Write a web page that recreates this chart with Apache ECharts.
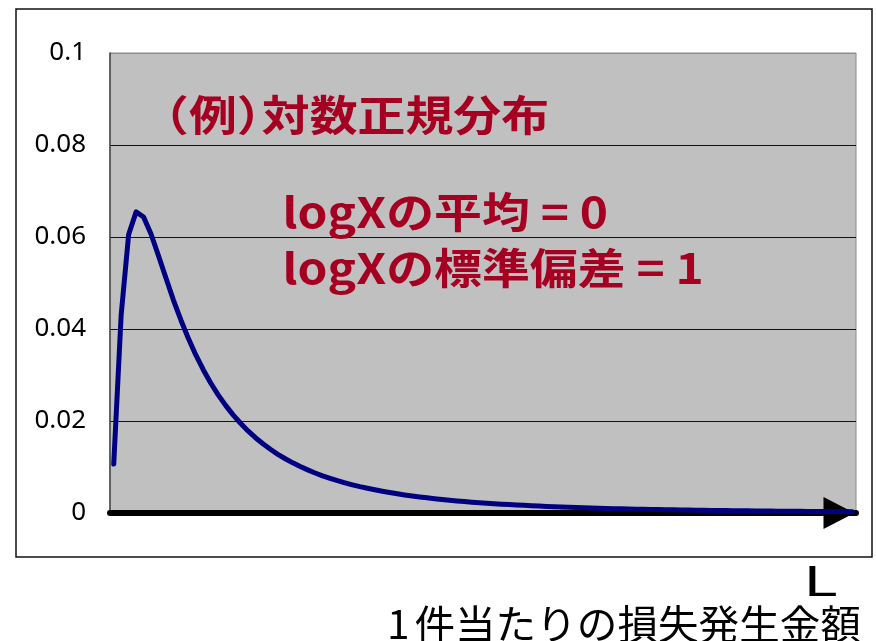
<!DOCTYPE html>
<html>
<head>
<meta charset="utf-8">
<script src="https://cdn.jsdelivr.net/npm/echarts@6/dist/echarts.min.js"></script>
<style>
  html, body { margin: 0; padding: 0; background: #ffffff; }
  #chart { width: 876px; height: 641px; }
</style>
</head>
<body>
<div id="chart"></div>
<script>
// Loss amount classes (upper bound of each 0.1-wide class)
const lossClasses = [
  '0.1','0.2','0.3','0.4','0.5','0.6','0.7','0.8','0.9','1.0',
  '1.1','1.2','1.3','1.4','1.5','1.6','1.7','1.8','1.9','2.0',
  '2.1','2.2','2.3','2.4','2.5','2.6','2.7','2.8','2.9','3.0',
  '3.1','3.2','3.3','3.4','3.5','3.6','3.7','3.8','3.9','4.0',
  '4.1','4.2','4.3','4.4','4.5','4.6','4.7','4.8','4.9','5.0',
  '5.1','5.2','5.3','5.4','5.5','5.6','5.7','5.8','5.9','6.0',
  '6.1','6.2','6.3','6.4','6.5','6.6','6.7','6.8','6.9','7.0',
  '7.1','7.2','7.3','7.4','7.5','7.6','7.7','7.8','7.9','8.0',
  '8.1','8.2','8.3','8.4','8.5','8.6','8.7','8.8','8.9','9.0',
  '9.1','9.2','9.3','9.4','9.5','9.6','9.7','9.8','9.9','10.0'
];

// Probability of each loss class (log-normal, mean of logX = 0, sd of logX = 1)
const probability = [
  0.01065, 0.04312, 0.06053, 0.06546, 0.06434, 0.06064, 0.05591, 0.05107, 0.04630, 0.04197,
  0.03797, 0.03436, 0.03115, 0.02826, 0.02569, 0.02339, 0.02134, 0.01951, 0.01785, 0.01637,
  0.01505, 0.01385, 0.01276, 0.01179, 0.01090, 0.01009, 0.00937, 0.00870, 0.00809, 0.00754,
  0.00702, 0.00656, 0.00613, 0.00573, 0.00537, 0.00504, 0.00473, 0.00444, 0.00418, 0.00393,
  0.00370, 0.00349, 0.00330, 0.00311, 0.00294, 0.00278, 0.00263, 0.00249, 0.00236, 0.00224,
  0.00213, 0.00202, 0.00192, 0.00183, 0.00174, 0.00166, 0.00158, 0.00150, 0.00143, 0.00137,
  0.00130, 0.00125, 0.00119, 0.00114, 0.00109, 0.00104, 0.00100, 0.00095, 0.00091, 0.00088,
  0.00084, 0.00081, 0.00077, 0.00074, 0.00071, 0.00068, 0.00066, 0.00063, 0.00061, 0.00059,
  0.00056, 0.00054, 0.00052, 0.00050, 0.00048, 0.00047, 0.00045, 0.00043, 0.00042, 0.00040,
  0.00039, 0.00038, 0.00036, 0.00035, 0.00034, 0.00033, 0.00032, 0.00031, 0.00030, 0.00029
];

// Y axis ticks
const yTicks = [0, 0.02, 0.04, 0.06, 0.08, 0.1];

// Annotation texts
const titleText = '（例{rp|）}対数正規分布';
const meanText = 'logXの平均 = 0';
const sdText = 'logXの標準偏差 = 1';
const axisMark = 'L';
const axisName = '{n|1}件当たりの損失発生金額';

const RED = '#a50021';
const JP = '"Noto Sans CJK JP", "Noto Sans", sans-serif';
const redFont = { fontSize: 42, fontWeight: 'bold', fontFamily: JP, fill: RED };

const chart = echarts.init(document.getElementById('chart'), null, { renderer: 'canvas' });

function redText(text, x, y, extra) {
  return Object.assign({
    type: 'text', x: x, y: y, scaleX: 1.14, z: 100, silent: true,
    style: Object.assign({ text: text, textAlign: 'left', textVerticalAlign: 'middle' }, redFont)
  }, extra || {});
}

const titleEl = redText(titleText, 141, 115);
titleEl.style.rich = {
  rp: { width: 22, align: 'left', fontSize: 42, fontWeight: 'bold', fontFamily: JP, color: RED }
};

chart.setOption({
  animation: false,
  backgroundColor: '#ffffff',
  grid: {
    left: 110, right: 20, top: 53, bottom: 128,
    show: true,
    backgroundColor: '#c0c0c0',
    borderColor: '#8c8c8c',
    borderWidth: 1
  },
  xAxis: {
    type: 'category',
    data: lossClasses,
    boundaryGap: true,
    axisLabel: { show: false },
    axisTick: { show: false },
    splitLine: { show: false },
    axisLine: {
      show: true,
      symbol: ['none', 'triangle'],
      symbolSize: [32, 31],
      symbolOffset: [0, -17],
      lineStyle: { color: '#000000', width: 6 }
    },
    z: 3
  },
  yAxis: {
    type: 'value',
    min: yTicks[0],
    max: yTicks[yTicks.length - 1],
    interval: yTicks[1] - yTicks[0],
    axisLine: { show: true, lineStyle: { color: '#444444', width: 1.5 } },
    axisTick: { show: false },
    axisLabel: {
      margin: 24,
      fontSize: 26,
      color: '#000000',
      padding: [6, 0, 0, 0],
      fontFamily: '"Noto Sans", sans-serif',
      formatter: function (v) {
        const i = yTicks.findIndex(function (t) { return Math.abs(t - v) < 1e-9; });
        return i >= 0 ? String(yTicks[i]) : '';
      }
    },
    splitLine: {
      show: true,
      lineStyle: { color: ['#000000', '#111111', '#111111', '#111111', '#111111', '#8c8c8c'], width: 1 }
    }
  },
  series: [{
    type: 'line',
    data: probability,
    showSymbol: false,
    smooth: false,
    lineStyle: { color: '#000080', width: 5, join: 'round', cap: 'round' },
    z: 5
  }],
  graphic: [
    {
      type: 'rect',
      shape: { x: 16, y: 9, width: 856, height: 548 },
      style: { fill: 'none', stroke: '#111111', lineWidth: 1.5 },
      silent: true,
      z: 100
    },
    titleEl,
    redText(meanText, 282.5, 212),
    redText(sdText, 282.5, 268),
    {
      type: 'text', x: 803, y: 580, scaleX: 1.56, z: 100, silent: true,
      style: {
        text: axisMark, fill: '#000000', fontSize: 41, fontFamily: JP,
        textAlign: 'left', textVerticalAlign: 'middle'
      }
    },
    {
      type: 'text', x: 387, y: 624, scaleX: 1.015, z: 100, silent: true,
      style: {
        text: axisName, fill: '#000000', fontSize: 40, fontFamily: JP,
        textAlign: 'left', textVerticalAlign: 'middle',
        rich: {
          n: { width: 27, align: 'left', fontSize: 40, fontFamily: JP, color: '#000000' }
        }
      }
    }
  ]
});
</script>
</body>
</html>
